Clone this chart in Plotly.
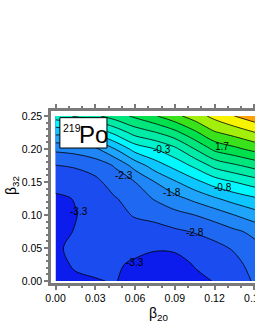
import plotly.graph_objects as go

# grid coordinates (beta20 on x, beta32 on y); last column lies just outside the visible window
beta20 = [0.0, 0.015, 0.03, 0.045, 0.06, 0.075, 0.09, 0.105, 0.12, 0.135, 0.15, 0.165]
beta32 = [0.0, 0.025, 0.05, 0.075, 0.1, 0.125, 0.15, 0.175, 0.2, 0.225, 0.25]

# energy values (MeV), one row per beta32 value
energy = [
    [-3.42, -3.36, -3.32, -3.28, -3.45, -3.60, -3.65, -3.42, -3.28, -3.05, -2.75, -2.45],
    [-3.40, -3.26, -3.22, -3.25, -3.36, -3.50, -3.50, -3.27, -3.12, -2.95, -2.62, -2.30],
    [-3.34, -3.24, -3.15, -3.15, -3.20, -3.25, -3.22, -3.05, -2.95, -2.74, -2.45, -2.15],
    [-3.42, -3.28, -3.12, -3.05, -3.00, -2.95, -2.88, -2.77, -2.60, -2.39, -2.18, -1.95],
    [-3.45, -3.32, -3.10, -2.95, -2.76, -2.68, -2.46, -2.30, -2.09, -1.80, -1.52, -1.25],
    [-3.38, -3.28, -3.05, -2.83, -2.60, -2.25, -1.96, -1.67, -1.36, -1.08, -0.87, -0.65],
    [-3.12, -3.05, -2.92, -2.57, -2.30, -1.80, -1.36, -0.95, -0.57, -0.30, -0.05, 0.20],
    [-2.81, -2.75, -2.59, -2.25, -1.60, -1.05, -0.63, -0.19, 0.35, 0.62, 0.88, 1.15],
    [-2.19, -2.10, -1.90, -1.30, -0.60, -0.30, 0.08, 0.70, 1.32, 1.58, 1.85, 2.10],
    [-1.15, -1.10, -0.70, -0.15, 0.40, 0.67, 1.05, 1.60, 2.15, 2.40, 2.68, 2.95],
    [-0.05, 0.25, 0.60, 0.95, 1.30, 1.65, 2.05, 2.45, 2.85, 3.20, 3.50, 3.80],
]

# contour levels
level_start = -3.3
level_end = 3.2
level_step = 0.5

band_colors = [
    "#0c1cec", "#1b4cf0", "#1f68f2", "#2086f5", "#1ea4fa", "#0ec6ff",
    "#00f8ff", "#00f2cc", "#00eca6", "#00e67c", "#00e04c", "#3ae21c",
    "#a4ee0c", "#f8f400", "#ffa200",
]

# contour labels
label_text = ["-3.3", "-3.3", "-2.8", "-2.3", "-1.8", "-0.8", "-0.3", "1.7"]
label_x = [0.0176, 0.0600, 0.1054, 0.0514, 0.0881, 0.1264, 0.0800, 0.1257]
label_y = [0.1060, 0.0280, 0.0742, 0.1606, 0.1348, 0.1424, 0.1990, 0.2045]

nb = len(band_colors) - 1
colorscale = [[k / nb, c] for k, c in enumerate(band_colors)]

fig = go.Figure()
fig.add_trace(go.Contour(
    x=beta20, y=beta32, z=energy,
    autocontour=False,
    contours=dict(start=level_start, end=level_end, size=level_step,
                  coloring="fill", showlabels=False),
    colorscale=colorscale,
    showscale=False,
    line=dict(color="black", width=0.8, smoothing=1.0),
    hoverinfo="skip",
))

FONT = "Liberation Sans, Arial, sans-serif"
annotations = []
for t, lx, ly in zip(label_text, label_x, label_y):
    annotations.append(dict(x=lx, y=ly, xref="x", yref="y", text=t, showarrow=False,
                            font=dict(family=FONT, size=10, color="black")))

# nucleus label box
annotations.append(dict(x=0.0045, y=0.2320, xref="x", yref="y", text="219", showarrow=False,
                        xanchor="left", yanchor="middle",
                        font=dict(family=FONT, size=10.5, color="black")))
annotations.append(dict(x=0.0285, y=0.2225, xref="x", yref="y", text="Po", showarrow=False,
                        xanchor="center", yanchor="middle",
                        font=dict(family=FONT, size=24, color="black")))
# axis titles (pixel positions, converted to paper coords below)
annotations.append(dict(x=12, y=186, xref="paper", yref="paper", text="β<sub>32</sub>",
                        showarrow=False, textangle=-90, xanchor="center", yanchor="middle",
                        font=dict(family=FONT, size=14, color="black")))
annotations.append(dict(x=159, y=314, xref="paper", yref="paper", text="β<sub>20</sub>",
                        showarrow=False, xanchor="center", yanchor="middle",
                        font=dict(family=FONT, size=14, color="black")))

FIG_W = 300
PLOT_L, PLOT_R, PLOT_T, PLOT_B = 51, 276, 111, 283
X_MIN = -0.0034
X_MAX = 0.1505 + (PLOT_R - 255) / 1325.0
for a in annotations:
    if a["xref"] == "paper":
        a["x"] = (a["x"] - PLOT_L) / (PLOT_R - PLOT_L)
        a["y"] = (PLOT_B - a["y"]) / (PLOT_B - PLOT_T)

shapes = [dict(type="rect", xref="x", yref="y", x0=0.0033, x1=0.0388, y0=0.2015, y1=0.2475,
               fillcolor="white", line=dict(color="black", width=1), layer="above")]

axis_common = dict(
    showgrid=False, zeroline=False, showline=True, linecolor="#7a7a7a", linewidth=2.5,
    ticks="outside", ticklen=4, tickwidth=1.5, tickcolor="#7a7a7a", automargin=False,
    tickfont=dict(family=FONT, size=10.5, color="black"),
)

fig.update_layout(
    template="none",
    width=FIG_W, height=330,
    margin=dict(l=PLOT_L, r=FIG_W - PLOT_R, t=PLOT_T, b=330 - PLOT_B, autoexpand=False),
    paper_bgcolor="white", plot_bgcolor="white",
    xaxis=dict(range=[X_MIN, X_MAX], tickvals=[0, 0.03, 0.06, 0.09, 0.12, 0.15],
               ticktext=["0.00", "0.03", "0.06", "0.09", "0.12", "0.15"], mirror="ticks",
               minor=dict(dtick=0.01, tick0=0, ticks="outside", ticklen=2, tickcolor="#7a7a7a"),
               **axis_common),
    yaxis=dict(range=[-0.003, 0.2576], tickvals=[0, 0.05, 0.1, 0.15, 0.2, 0.25],
               ticktext=["0.00", "0.05", "0.10", "0.15", "0.20", "0.25"], mirror=False,
               minor=dict(dtick=0.01, tick0=0, ticks="outside", ticklen=2, tickcolor="#7a7a7a"),
               **axis_common),
    annotations=annotations,
    shapes=shapes,
    showlegend=False,
)

fig.write_html(
    "out.html",
    config={"displayModeBar": False},
    post_script="document.documentElement.style.overflow='hidden';document.body.style.margin='0px';document.body.style.overflow='hidden';",
)
